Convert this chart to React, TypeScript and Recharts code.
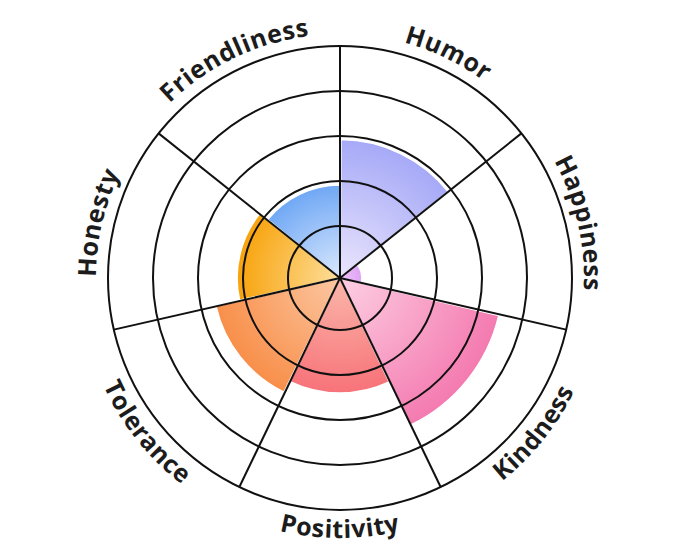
import React from 'react';
import { RadialBarChart, RadialBar, PolarGrid, PolarAngleAxis, PolarRadiusAxis, Cell, Sector } from 'recharts';

const CATEGORIES = ['Humor', 'Happiness', 'Kindness', 'Positivity', 'Tolerance', 'Honesty', 'Friendliness'];
const SCORES = [2.92, 0.33, 3.47, 2.4, 2.67, 2.13, 1.91];
const RING_TICKS = [1, 2, 3, 4, 5];

// light colour near the centre -> strong colour at the rim of each petal
const INNER_COLORS = ['#ebe6fd', '#f0c4fa', '#fdd0e3', '#fbb7aa', '#fcc7a2', '#fddf9c', '#dbe9fd'];
const OUTER_COLORS = ['#a6a9f7', '#dea2f5', '#f47ab0', '#f7737a', '#f88f4a', '#f8a30c', '#70a8f5'];

const CX = 332;
const CY = 270;
const OUTER_R = 232;
const BAND = 360 / CATEGORIES.length;
// recharts draws each centric sector from the tick counter-clockwise, so the axis
// starts one band early to keep Humor between 12 o'clock and the next spoke
const START_ANGLE = 90 - BAND;

const data = CATEGORIES.map((name, i) => ({ name, score: SCORES[i] }));

// spokes sit on the borders between categories
const spokeAngles = CATEGORIES.map((_, i) => 90 - i * BAND);

const rad = (a: number) => (a * Math.PI) / 180;

const PetalShape = (props: any) => {
    const { cx, cy, outerRadius, index } = props;
    const id = `petal-grad-${index}`;
    return (
        <g>
            <defs>
                <radialGradient id={id} gradientUnits="userSpaceOnUse" cx={cx} cy={cy} r={outerRadius}>
                    <stop offset="0%" stopColor={INNER_COLORS[index]} />
                    <stop offset="100%" stopColor={OUTER_COLORS[index]} />
                </radialGradient>
            </defs>
            <Sector {...props} innerRadius={0} fill={`url(#${id})`} stroke="#ffffff" strokeWidth={1.5} />
        </g>
    );
};

const CurvedTick = (props: any) => {
    const { payload, index } = props;
    const angle = payload.coordinate + BAND / 2;
    const upper = Math.sin(rad(angle)) > 0;
    // top half reads clockwise with letters pointing out, bottom half the other way round
    const r = upper ? OUTER_R + 12 : OUTER_R + 28;
    const a1 = upper ? angle + 80 : angle - 80;
    const a2 = upper ? angle - 80 : angle + 80;
    const sx = CX + r * Math.cos(rad(a1));
    const sy = CY - r * Math.sin(rad(a1));
    const ex = CX + r * Math.cos(rad(a2));
    const ey = CY - r * Math.sin(rad(a2));
    const id = `label-arc-${index}`;
    return (
        <g>
            <defs>
                <path id={id} d={`M ${sx} ${sy} A ${r} ${r} 0 0 ${upper ? 1 : 0} ${ex} ${ey}`} fill="none" />
            </defs>
            <text fontFamily="'Open Sans', sans-serif" fontWeight={700} fontSize={25} fill="#1c1c1c" letterSpacing={0.6}>
                <textPath href={`#${id}`} startOffset="50%" textAnchor="middle">
                    {payload.value}
                </textPath>
            </text>
        </g>
    );
};

export default function App() {
    return (
        <div style={{ width: 664, height: 541 }}>
            <RadialBarChart
                width={664}
                height={541}
                cx={CX}
                cy={CY}
                innerRadius={0}
                outerRadius={OUTER_R}
                startAngle={START_ANGLE}
                endAngle={START_ANGLE - 360}
                layout="centric"
                data={data}
                barCategoryGap={0}
                margin={{ top: 0, right: 0, bottom: 0, left: 0 }}
            >
                <PolarAngleAxis type="category" dataKey="name" axisLine={false} tickLine={false} tick={<CurvedTick />} />
                {/* rings are slightly off-centre in the original, so the scale starts just below zero */}
                <PolarRadiusAxis type="number" domain={[-0.156, 5]} ticks={RING_TICKS} tick={false} axisLine={false} />
                <RadialBar dataKey="score" shape={<PetalShape />} isAnimationActive={false} zIndex={-200}>
                    {data.map((d, i) => (
                        <Cell key={d.name} fill={OUTER_COLORS[i]} />
                    ))}
                </RadialBar>
                <PolarGrid gridType="circle" polarAngles={spokeAngles} stroke="#111111" strokeWidth={2} strokeOpacity={1} zIndex={700} />
            </RadialBarChart>
        </div>
    );
}
